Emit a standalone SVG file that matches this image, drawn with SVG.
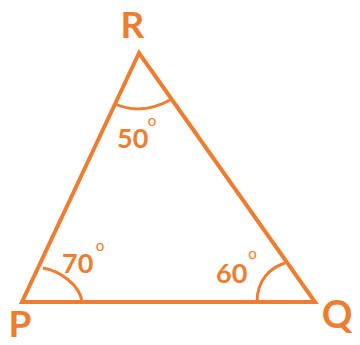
<svg xmlns="http://www.w3.org/2000/svg" width="360" height="345" viewBox="0 0 360 345">
<style>
.l{fill:none;stroke:#ED7D31;stroke-linejoin:miter;stroke-linecap:butt}
.t{fill:#ED7D31;font-family:Lato,"Open Sans",sans-serif;font-weight:bold}
.d{fill:#ED7D31;font-family:Lato,"Open Sans",sans-serif;font-size:15px}
</style>
<rect width="360" height="345" fill="#FFFFFF"/>
<g id="triangle">
<polygon class="l" stroke-width="4" points="139,53 22,302 315,302"/>
</g>
<g id="arcs">
<path class="l" stroke-width="3" d="M115,104 Q142,116 172,99"/>
<path class="l" stroke-width="3" d="M43,268 C60,271 80,285 82,302"/>
<path class="l" stroke-width="3" d="M285,263 C270,268 257,280 257,302"/>
</g>
<g id="labels">
<text class="t" x="132.5" y="37.5" font-size="37" text-anchor="middle">R</text>
<text class="t" x="20" y="337" font-size="37" text-anchor="middle">P</text>
<text class="t" x="337" y="328" font-size="38" text-anchor="middle">Q</text>
<text class="t" x="117" y="148" font-size="27">50</text>
<text class="d" x="152" y="126" text-anchor="middle">o</text>
<text class="t" x="62" y="273" font-size="27">70</text>
<text class="d" x="100" y="250.5" text-anchor="middle">o</text>
<text class="t" x="216" y="283" font-size="27">60</text>
<text class="d" x="252.5" y="259" text-anchor="middle">o</text>
</g>
</svg>
